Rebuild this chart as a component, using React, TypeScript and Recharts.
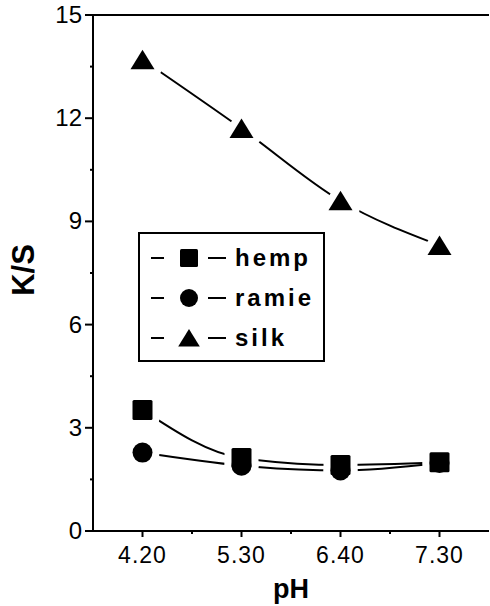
import React from 'react';
import { LineChart, Line, XAxis, YAxis, ReferenceLine } from 'recharts';

const phLabels = ['4.20', '5.30', '6.40', '7.30'];
const hempValues = [3.52, 2.12, 1.92, 2.0];
const ramieValues = [2.28, 1.9, 1.76, 1.98];
const silkValues = [13.7, 11.7, 9.6, 8.3];
const yTicks = [0, 1.5, 3, 4.5, 6, 7.5, 9, 10.5, 12, 13.5, 15];
const seriesNames = ['hemp', 'ramie', 'silk'];

const data = phLabels.map((ph, i) => ({
  ph,
  hemp: hempValues[i],
  ramie: ramieValues[i],
  silk: silkValues[i],
}));

const W = 490;
const H = 606;
const LEFT = 93;
const RIGHT = 1;
const BAND = (W - LEFT - RIGHT) / phLabels.length;
const FONT = '"Liberation Sans", Arial, sans-serif';

type Shape = 'square' | 'circle' | 'triangle';
const shapes: Shape[] = ['square', 'circle', 'triangle'];

const Marker = ({ shape, cx, cy, s = 1, halo = false }: any) => {
  const fill = halo ? '#fff' : '#000';
  const stroke = halo ? '#fff' : 'none';
  const sw = halo ? 14 : 0;
  if (shape === 'square') {
    return <rect x={cx - 10 * s} y={cy - 10 * s} width={20 * s} height={20 * s} rx={1.5} fill={fill} stroke={stroke} strokeWidth={sw} />;
  }
  if (shape === 'circle') {
    return <circle cx={cx} cy={cy} r={10 * s} fill={fill} stroke={stroke} strokeWidth={sw} />;
  }
  const pts = `${cx},${cy - 10 * s} ${cx - 12 * s},${cy + 9.5 * s} ${cx + 12 * s},${cy + 9.5 * s}`;
  return <polygon points={pts} fill={fill} stroke={stroke} strokeWidth={sw} strokeLinejoin="round" />;
};

const dotFor = (shape: Shape, halo: boolean) => (props: any) => {
  if (props.cx == null || props.cy == null) return <g key={props.index} />;
  return <Marker key={`${shape}-${halo}-${props.index}`} shape={shape} cx={props.cx} cy={props.cy} halo={halo} />;
};

const XTick = (props: any) => {
  const { x, y, payload, index } = props;
  return (
    <g>
      <line x1={x} y1={y} x2={x} y2={y + 6} stroke="#000" strokeWidth={2} />
      {index < phLabels.length - 1 && (
        <line x1={x + BAND / 2} y1={y} x2={x + BAND / 2} y2={y + 3} stroke="#000" strokeWidth={2} />
      )}
      <text x={x} y={y + 32} textAnchor="middle" fontSize={23} fontFamily={FONT} fill="#000" letterSpacing={1}>
        {payload.value}
      </text>
    </g>
  );
};

const YTick = (props: any) => {
  const { x, y, payload } = props;
  const major = payload.value % 3 === 0;
  return (
    <g>
      <line x1={x - (major ? 8 : 3)} y1={y} x2={x} y2={y} stroke="#000" strokeWidth={2} />
      {major && (
        <text x={x - 11} y={y + 8} textAnchor="end" fontSize={24} fontFamily={FONT} fill="#000">
          {payload.value}
        </text>
      )}
    </g>
  );
};

const LegendBox = () => (
  <div
    style={{
      position: 'absolute',
      left: 138,
      top: 232,
      width: 187,
      height: 130,
      border: '2px solid #000',
      boxSizing: 'border-box',
      background: '#fff',
    }}
  >
    <svg width={183} height={126} style={{ display: 'block' }}>
      {seriesNames.map((name, i) => {
        const cy = 24 + i * 40;
        return (
          <g key={name}>
            <line x1={11} y1={cy} x2={24} y2={cy} stroke="#000" strokeWidth={2} />
            <Marker shape={shapes[i]} cx={49} cy={cy} s={0.9} />
            <line x1={68} y1={cy} x2={86} y2={cy} stroke="#000" strokeWidth={2} />
            <text x={95} y={cy + 8} fontSize={24} fontWeight="bold" fontFamily={FONT} letterSpacing={3} fill="#000">
              {name}
            </text>
          </g>
        );
      })}
    </svg>
  </div>
);

export default function App() {
  return (
    <div style={{ position: 'absolute', left: 0, top: 0, width: W, height: H, background: '#fff' }}>
      <LineChart width={W} height={H} data={data} margin={{ top: 15, right: RIGHT, left: 0, bottom: 0 }}>
        <XAxis
          dataKey="ph"
          interval={0}
          height={75}
          padding={{ left: BAND / 2, right: BAND / 2 }}
          tickSize={0}
          tickMargin={0}
          tickLine={false}
          axisLine={{ stroke: '#000', strokeWidth: 2 }}
          tick={<XTick />}
          label={{ value: 'pH', position: 'center', dy: 20, fontSize: 27, fontWeight: 'bold', fontFamily: FONT, fill: '#000' }}
        />
        <YAxis
          domain={[0, 15]}
          ticks={yTicks}
          width={LEFT}
          tickSize={0}
          tickMargin={0}
          tickLine={false}
          axisLine={{ stroke: '#000', strokeWidth: 2 }}
          tick={<YTick />}
          label={{ value: 'K/S', angle: -90, position: 'center', dx: -24, dy: -3, fontSize: 31, fontWeight: 'bold', fontFamily: FONT, fill: '#000' }}
        />
        <YAxis yAxisId="right" orientation="right" width={0} tick={false} tickLine={false} axisLine={{ stroke: '#000', strokeWidth: 2 }} />
        <ReferenceLine y={15} stroke="#000" strokeWidth={2} />

        {/* curves */}
        {seriesNames.map((k) => (
          <Line key={`l-${k}`} dataKey={k} type="monotone" stroke="#000" strokeWidth={2} dot={false} activeDot={false} isAnimationActive={false} />
        ))}
        {/* white gaps round markers */}
        {seriesNames.map((k, i) => (
          <Line key={`h-${k}`} dataKey={k} type="monotone" stroke="none" dot={dotFor(shapes[i], true)} activeDot={false} isAnimationActive={false} />
        ))}
        {/* markers */}
        {seriesNames.map((k, i) => (
          <Line key={`m-${k}`} dataKey={k} type="monotone" stroke="none" dot={dotFor(shapes[i], false)} activeDot={false} isAnimationActive={false} />
        ))}
      </LineChart>
      <LegendBox />
    </div>
  );
}
